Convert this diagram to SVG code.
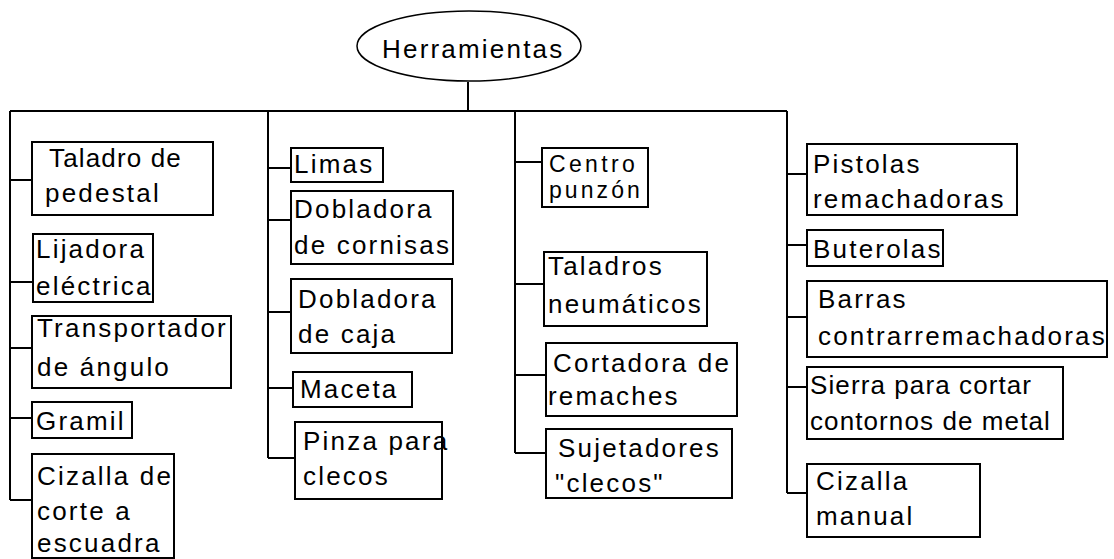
<svg xmlns="http://www.w3.org/2000/svg" width="1114" height="559" viewBox="0 0 1114 559">
<style>
text{font-family:"Liberation Sans",Arial,sans-serif;font-size:26px;letter-spacing:2.2px;fill:#000}
.b{fill:#fff;stroke:#000;stroke-width:2}
.c{fill:none;stroke:#000;stroke-width:2}
.s{letter-spacing:1.1px}
.t{font-size:23px}
</style>
<rect width="1114" height="559" fill="#fff"/>
<g id="connectors" class="c">
<path d="M468 82V111M10 111H787M10 111V500M268 111V458M515 111V453M787 111V493"/>
<path d="M10 180H32M10 282H33M10 348H32M10 418H32M10 500H32"/>
<path d="M268 168H291M268 220H291M268 312H291M268 388H293M268 458H295"/>
<path d="M515 162H542M515 284H544M515 375H546M515 453H546"/>
<path d="M787 174H807M787 245H807M787 317H807M787 387H807M787 493H807"/>
</g>
<g id="root"><ellipse cx="469" cy="46" rx="112" ry="35" fill="#fff" stroke="#000" stroke-width="1.5"/><text x="382" y="58">Herramientas</text></g>
<g id="n1"><rect class="b" x="32" y="142" width="181" height="73"/><text x="49" y="167" textLength="134" lengthAdjust="spacing">Taladro de</text><text x="45" y="202">pedestal</text></g>
<g id="n2"><rect class="b" x="33" y="234" width="120" height="68"/><text x="36" y="258">Lijadora</text><text x="36" y="295">eléctrica</text></g>
<g id="n3"><rect class="b" x="32" y="316" width="199" height="72"/><text x="37" y="337">Transportador</text><text x="37" y="376">de ángulo</text></g>
<g id="n4"><rect class="b" x="32" y="402" width="100" height="36"/><text x="36" y="430">Gramil</text></g>
<g id="n5"><rect class="b" x="32" y="454" width="142" height="104"/><text x="37" y="485">Cizalla de</text><text x="37" y="520">corte a</text><text x="37" y="552">escuadra</text></g>
<g id="n6"><rect class="b" x="291" y="148" width="92" height="34"/><text x="294" y="173">Limas</text></g>
<g id="n7"><rect class="b" x="291" y="191" width="162" height="73"/><text x="294" y="218">Dobladora</text><text x="294" y="254">de cornisas</text></g>
<g id="n8"><rect class="b" x="291" y="279" width="161" height="74"/><text x="298" y="308">Dobladora</text><text x="298" y="343">de caja</text></g>
<g id="n9"><rect class="b" x="293" y="372" width="119" height="35"/><text x="300" y="398">Maceta</text></g>
<g id="n10"><rect class="b" x="295" y="422" width="147" height="77"/><text x="303" y="450">Pinza para</text><text x="303" y="485">clecos</text></g>
<g id="n11"><rect class="b" x="542" y="148" width="106" height="59"/><text class="t" x="549" y="172" textLength="88" lengthAdjust="spacing">Centro</text><text class="t" x="549" y="198" textLength="93" lengthAdjust="spacing">punzón</text></g>
<g id="n12"><rect class="b" x="544" y="252" width="163" height="74"/><text x="548" y="275">Taladros</text><text x="548" y="313">neumáticos</text></g>
<g id="n13"><rect class="b" x="546" y="343" width="191" height="73"/><text x="553" y="372">Cortadora de</text><text x="548" y="405">remaches</text></g>
<g id="n14"><rect class="b" x="546" y="429" width="186" height="69"/><text x="558" y="457">Sujetadores</text><text x="555" y="492">"clecos"</text></g>
<g id="n15"><rect class="b" x="807" y="144" width="210" height="71"/><text x="813" y="173">Pistolas</text><text x="813" y="208">remachadoras</text></g>
<g id="n16"><rect class="b" x="807" y="230" width="136" height="36"/><text x="813" y="258">Buterolas</text></g>
<g id="n17"><rect class="b" x="807" y="281" width="300" height="76"/><text x="818" y="308">Barras</text><text x="818" y="345">contrarremachadoras</text></g>
<g id="n18"><rect class="b" x="807" y="367" width="256" height="72"/><text class="s" x="810" y="394">Sierra para cortar</text><text class="s" x="810" y="430">contornos de metal</text></g>
<g id="n19"><rect class="b" x="807" y="464" width="173" height="73"/><text x="816" y="490">Cizalla</text><text x="816" y="525">manual</text></g>
</svg>
